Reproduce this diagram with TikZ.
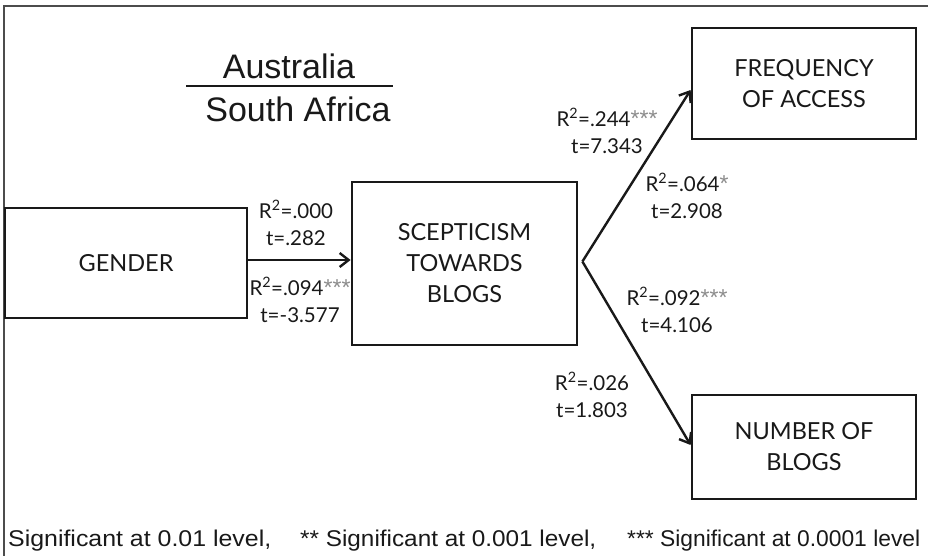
\documentclass[tikz,border=0pt]{standalone}
\usepackage{fontspec}
\usepackage{graphicx}
\setmainfont{Lato}
\newfontfamily\arialf{Liberation Sans}
\usetikzlibrary{arrows.meta}
\newcommand{\stars}[1]{{\arialf\fontsize{23}{23}\selectfont\textcolor{black!45}{#1}}}
\begin{document}
\begin{tikzpicture}[x=1pt,y=-1pt,
  box/.style={draw=black!90, line width=2.8pt, inner sep=0pt, align=center, text=black!90, font=\fontsize{23.5}{31}\selectfont},
  lbl/.style={font=\fontsize{20.5}{27}\selectfont, inner sep=0pt, align=center, text=black!90},
  conn/.style={line width=2.4pt, draw=black!90, -{Straight Barb[length=9pt,width=14pt,line width=2.4pt]}},
  foot/.style={anchor=base west, inner sep=0pt, text=black!90}
  ]
\useasboundingbox (0,0) rectangle (928,555);
\fill[white] (0,0) rectangle (928,555);
\draw[black!70, line width=1.5pt] (4,570) -- (4,6) -- (940,6);

% title
\node[inner sep=0pt, font=\arialf\fontsize{34}{34}\selectfont, text=black!90] (aus) at (289,66) {Australia};
\node[inner sep=0pt, font=\arialf\fontsize{34}{34}\selectfont, text=black!90] (sa) at (298,109) {South Africa};
\draw[black!90, line width=2pt] (186,86) -- (393,86);

% boxes
\node[box, minimum width=242pt, minimum height=110pt] (gender) at (126,263) {GENDER};
\node[box, minimum width=225pt, minimum height=163pt] (scep) at (464.5,263.5) {SCEPTICISM\\TOWARDS\\BLOGS};
\node[box, minimum width=224pt, minimum height=111pt] (freq) at (804,83.5) {FREQUENCY\\OF ACCESS};
\node[box, minimum width=224pt, minimum height=104pt] (num) at (804,447) {NUMBER OF\\BLOGS};

% connectors
\draw[conn] (gender.east |- 0,260) -- (scep.west |- 0,260);
\draw[conn] ([xshift=4pt,yshift=2pt]scep.east) -- ([yshift=-6.5pt]freq.west);
\draw[conn] ([xshift=4pt,yshift=2pt]scep.east) -- ([yshift=2pt]num.west);

% labels
\node[lbl] (l1) at (296,223) {R\textsuperscript{2}=.000\\t=.282};
\node[lbl] (l2) at (300,300) {R\textsuperscript{2}=.094\stars{***}\\t=-3.577};
\node[lbl] (l3) at (607,131) {R\textsuperscript{2}=.244\stars{***}\\t=7.343};
\node[lbl] (l4) at (687,196) {R\textsuperscript{2}=.064\stars{*}\\t=2.908};
\node[lbl] (l5) at (677,310) {R\textsuperscript{2}=.092\stars{***}\\t=4.106};
\node[lbl] (l6) at (592,395) {R\textsuperscript{2}=.026\\t=1.803};

% footnote
\node[foot] (f1) at (8,546) {\resizebox{263pt}{16.5pt}{\arialf Significant at 0.01 level,}};
\node[foot] (f2) at (300,546) {\resizebox{296pt}{16.5pt}{\arialf ** Significant at 0.001 level,}};
\node[foot] (f3) at (627,546) {\resizebox{293pt}{16.5pt}{\arialf *** Significant at 0.0001 level}};
\end{tikzpicture}
\end{document}
